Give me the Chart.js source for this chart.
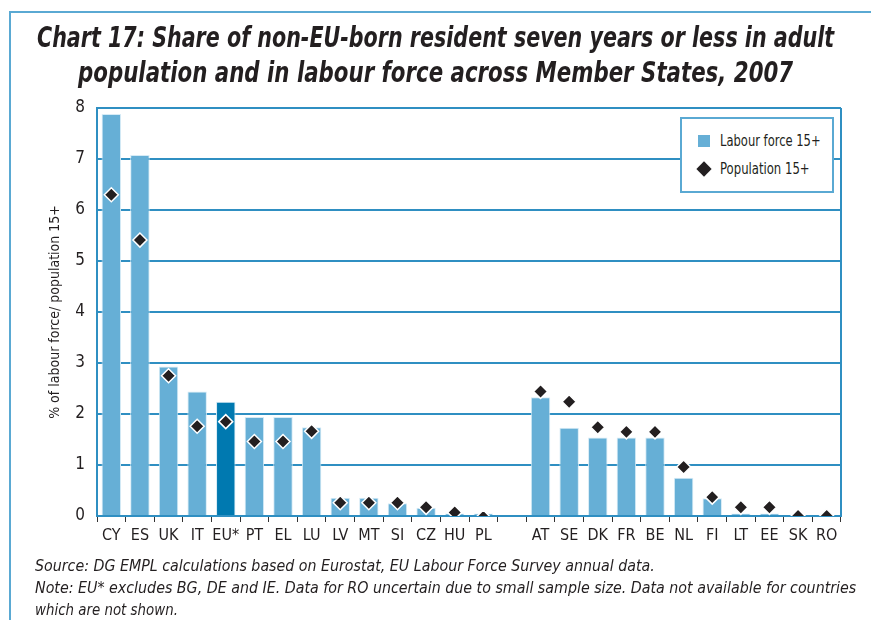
<!DOCTYPE html>
<html>
<head>
<meta charset="utf-8">
<script src="https://cdn.jsdelivr.net/npm/chart.js@4"></script>
<style>
  body { margin: 0; background: #fff; }
  #wrap { position: relative; width: 871px; height: 620px; overflow: hidden;
    font-family: "Liberation Sans Narrow", "DejaVu Sans Condensed", sans-serif; color: #231f20; }
  #frame { position: absolute; left: 9px; top: 11px; width: 880px; height: 700px;
    border-left: 2px solid #5aa9d3; border-top: 2px solid #5aa9d3; }
  #title { position: absolute; left: 0; top: 20px; width: 871px;
    font-size: 28px; font-weight: bold; font-style: italic; line-height: 35px; }
  #title div { display: flex; justify-content: center; width: 871px; height: 35px; }
  #notes { position: absolute; left: 35px; top: 555px; font-size: 15.5px; font-style: italic; line-height: 22px; }
  #notes div { white-space: nowrap; }
  .fit { display: inline-block; white-space: nowrap; flex: none; }
  #legend { position: absolute; left: 680px; top: 117px; width: 150px; height: 72px;
    border: 2px solid #5aa9d3; background: #fff; font-size: 16px; }
  .item { position: absolute; left: 16px; height: 20px; line-height: 20px; }
  .sw { position: absolute; left: 0; top: 4px; width: 12px; height: 12px; }
  .item .fit { position: absolute; left: 22px; transform-origin: left center; }
  canvas { position: absolute; left: 0; top: 0; }
</style>
</head>
<body>
<div id="wrap">
  <div id="frame"></div>
  <canvas id="myChart" width="871" height="620"></canvas>
  <div id="title">
    <div><span class="fit" data-w="797">Chart 17: Share of non-EU-born resident seven years or less in adult</span></div>
    <div><span class="fit" data-w="715">population and in labour force across Member States, 2007</span></div>
  </div>
  <div id="legend">
    <div class="item" style="top:12px"><div class="sw" style="background:#66afd6"></div><span class="fit" data-w="101">Labour force 15+</span></div>
    <div class="item" style="top:40px"><div class="sw" style="background:#231f20;transform:rotate(45deg) scale(0.9)"></div><span class="fit" data-w="90">Population 15+</span></div>
  </div>
  <div id="notes">
    <div><span class="fit" data-w="620">Source: DG EMPL calculations based on Eurostat, EU Labour Force Survey annual data.</span></div>
    <div><span class="fit" data-w="821">Note: EU* excludes BG, DE and IE. Data for RO uncertain due to small sample size. Data not available for countries</span></div>
    <div><span class="fit" data-w="143">which are not shown.</span></div>
  </div>
</div>
<script>
const countries = ["CY", "ES", "UK", "IT", "EU*", "PT", "EL", "LU", "LV", "MT", "SI", "CZ", "HU", "PL", "",
  "AT", "SE", "DK", "FR", "BE", "NL", "FI", "LT", "EE", "SK", "RO"];
const labourForce = [7.88, 7.08, 2.93, 2.44, 2.24, 1.94, 1.94, 1.74, 0.36, 0.36, 0.25, 0.16, 0.05, 0.05, null,
  2.33, 1.73, 1.54, 1.54, 1.54, 0.75, 0.35, 0.05, 0.05, 0, 0];
const population = [6.3, 5.41, 2.75, 1.76, 1.85, 1.46, 1.46, 1.66, 0.26, 0.26, 0.26, 0.17, 0.07, -0.02, null,
  2.44, 2.24, 1.74, 1.65, 1.65, 0.96, 0.37, 0.17, 0.17, 0, 0];
const yTicks = [0, 1, 2, 3, 4, 5, 6, 7, 8];

// squeeze text to the widths measured on the original
document.querySelectorAll(".fit").forEach(el => {
  const w = el.offsetWidth;
  el.style.transform = "scaleX(" + (el.dataset.w / w) + ")";
  if (!el.closest(".item")) el.style.transformOrigin = el.closest("#title") ? "center" : "left";
});

const blue = "#2f8fc2";
const font = "'Liberation Sans Narrow', 'DejaVu Sans Condensed', sans-serif";

const rightBorder = {
  id: "rightBorder",
  afterDraw(chart) {
    const { ctx, chartArea } = chart;
    ctx.save();
    ctx.strokeStyle = blue;
    ctx.lineWidth = 2;
    ctx.beginPath();
    ctx.moveTo(chartArea.right, chartArea.top);
    ctx.lineTo(chartArea.right, chartArea.bottom);
    ctx.stroke();
    ctx.restore();
  }
};

const ctx = document.getElementById("myChart").getContext("2d");
new Chart(ctx, {
  data: {
    labels: countries,
    datasets: [{
      type: "line",
      label: "Population 15+",
      data: population,
      showLine: false,
      pointStyle: "rectRot",
      pointRadius: 7,
      backgroundColor: "#231f20",
      borderColor: "#ffffff",
      borderWidth: 1.5,
      order: 0
    }, {
      type: "bar",
      label: "Labour force 15+",
      data: labourForce,
      backgroundColor: countries.map(c => c === "EU*" ? "#0079b0" : "#66afd6"),
      borderColor: "#d6ebf6",
      borderWidth: { top: 1, left: 1, right: 1, bottom: 0 },
      categoryPercentage: 1,
      barPercentage: 0.68,
      order: 1
    }]
  },
  options: {
    responsive: false,
    animation: false,
    layout: { padding: { left: 0, right: 30, top: 108, bottom: 64 } },
    plugins: { legend: { display: false }, tooltip: { enabled: false } },
    scales: {
      x: {
        offset: true,
        afterFit(scale) { scale.height = 40; },
        grid: { offset: true, drawOnChartArea: false, drawTicks: true, tickLength: 6, color: "#333", lineWidth: 1 },
        border: { display: true, color: blue, width: 2 },
        ticks: { color: "#231f20", font: { family: font, size: 16 }, padding: 4, maxRotation: 0, autoSkip: false }
      },
      y: {
        min: 0,
        max: 8,
        afterFit(scale) { scale.width = 97; },
        afterBuildTicks(scale) { scale.ticks = yTicks.map(v => ({ value: v })); },
        grid: { color: blue, lineWidth: 2, drawTicks: false },
        border: { display: true, color: blue, width: 2 },
        ticks: { color: "#231f20", font: { family: font, size: 17 }, padding: 12 },
        title: {
          display: true,
          text: "% of labour force/ population 15+",
          color: "#231f20",
          font: { family: font, size: 14 },
          padding: { top: 47, bottom: 0 }
        }
      }
    }
  },
  plugins: [rightBorder]
});
</script>
</body>
</html>
